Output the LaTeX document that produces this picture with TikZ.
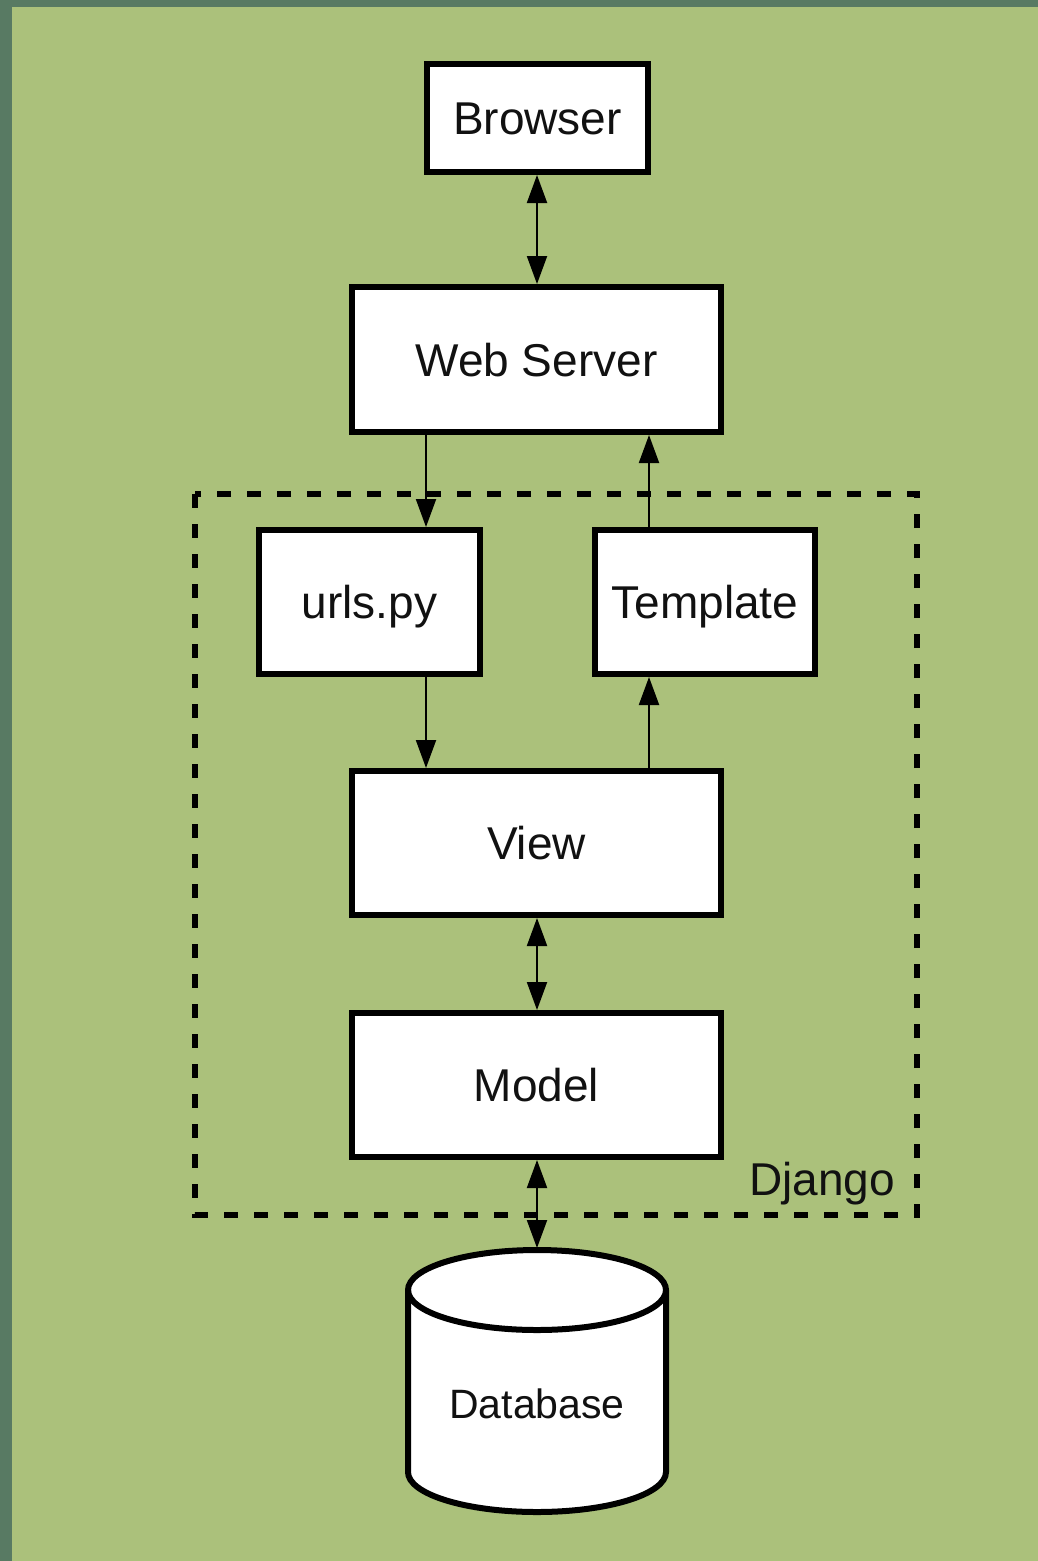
\documentclass[tikz,border=0pt]{standalone}
\usepackage{fontspec}
\setmainfont{Liberation Sans}
\usetikzlibrary{arrows.meta}
\definecolor{frameC}{HTML}{587A63}
\definecolor{bgC}{HTML}{ABC17B}
\definecolor{inkC}{HTML}{111111}
\tikzset{
  box/.style={draw=black, fill=white, line width=6pt, inner sep=0pt,
    text=inkC, font=\fontsize{46}{55}\selectfont, text height=33pt, text depth=0pt, align=center},
  arr/.style={draw=black, line width=2pt, -{Triangle[length=28pt,width=20pt]}},
  dbl/.style={draw=black, line width=2pt, {Triangle[length=28pt,width=20pt]}-{Triangle[length=28pt,width=20pt]}},
  djangobox/.style={draw=black, line width=6pt, dash pattern=on 14pt off 16pt},
  lbl/.style={text=inkC, font=\fontsize{46}{55}\selectfont, inner sep=0pt}
}
\begin{document}
\begin{tikzpicture}[x=1pt,y=-1pt]
\useasboundingbox (0,0) rectangle (1038,1561);
\fill[frameC] (0,0) rectangle (1038,1561);
\fill[bgC] (12,7) rectangle (1038,1561);

% Django container
\draw[djangobox] (195,494) rectangle (917,1215);
\node[lbl, anchor=base east] (django) at (895,1195) {Django};

% boxes
\node[box, minimum width=221pt, minimum height=108pt] (browser) at (537.5,118) {Browser};
\node[box, minimum width=369pt, minimum height=145pt] (web) at (536.5,359.5) {Web Server};
\node[box, minimum width=221pt, minimum height=144pt] (urls) at (369.5,602) {urls.py};
\node[box, minimum width=220pt, minimum height=144pt] (tmpl) at (705,602) {Template};
\node[box, minimum width=369pt, minimum height=144pt] (view) at (536.5,843) {View};
\node[box, minimum width=369pt, minimum height=144pt] (model) at (536.5,1085) {Model};

% database cylinder
\filldraw[draw=black, fill=white, line width=6pt]
  (408,1290) -- (408,1472)
  arc[start angle=180, end angle=360, x radius=129pt, y radius=40pt]
  -- (666,1290)
  arc[start angle=0, end angle=180, x radius=129pt, y radius=40pt] -- cycle;
\draw[black, line width=6pt] (408,1290)
  arc[start angle=180, end angle=360, x radius=129pt, y radius=40pt];
\coordinate (dbtop) at (537,1248);
\node[text=inkC, font=\fontsize{41}{50}\selectfont, text height=30pt, text depth=0pt, inner sep=0pt] (db) at (537,1403) {Database};

% connector columns
\coordinate (xl) at (426,0);
\coordinate (xr) at (649,0);
\coordinate (xm) at (537,0);

% connectors
\draw[dbl] (browser.south -| xm) -- (web.north -| xm);
\draw[arr] (web.south -| xl) -- (urls.north -| xl);
\draw[arr] (tmpl.north -| xr) -- (web.south -| xr);
\draw[arr] (urls.south -| xl) -- (view.north -| xl);
\draw[arr] (view.north -| xr) -- (tmpl.south -| xr);
\draw[dbl] (view.south -| xm) -- (model.north -| xm);
\draw[dbl] (model.south -| xm) -- (dbtop);
\end{tikzpicture}
\end{document}
